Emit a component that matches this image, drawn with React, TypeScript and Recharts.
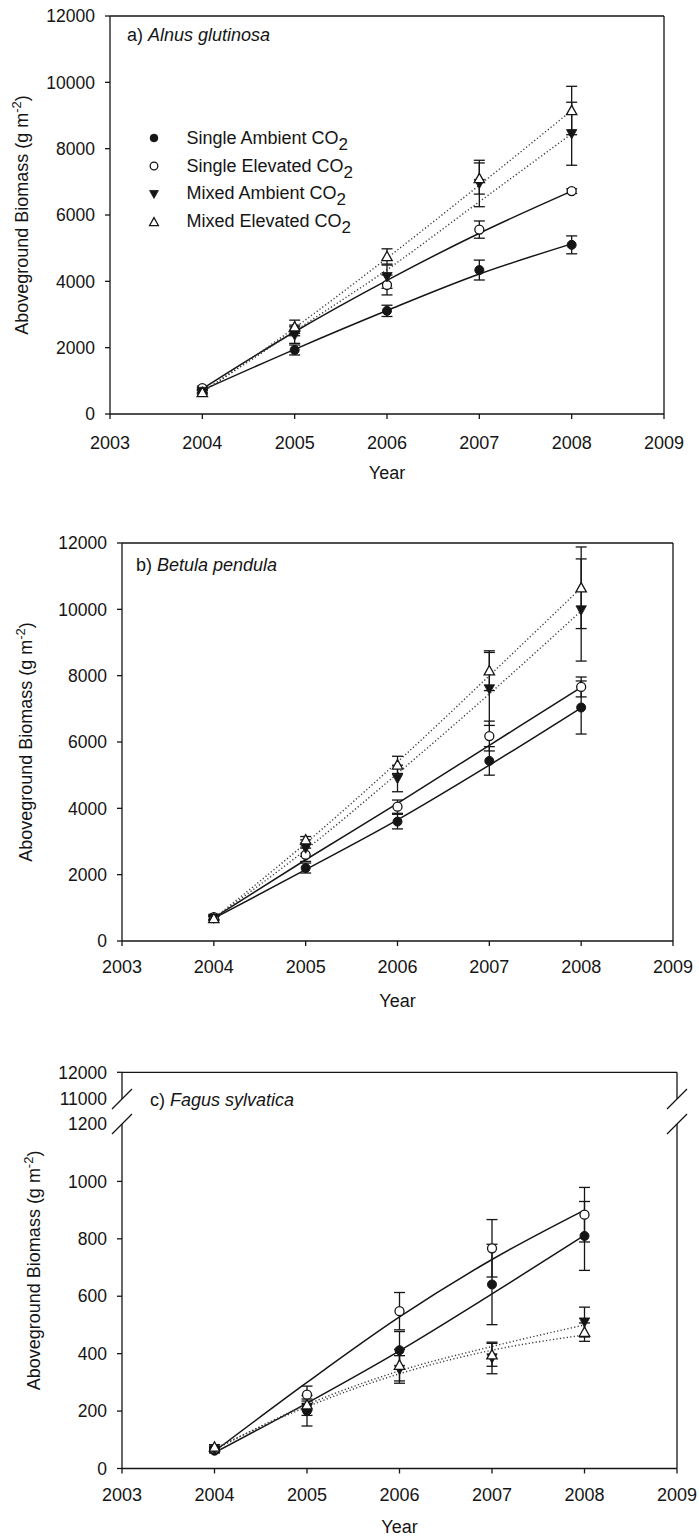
import React from 'react';
import {
  ComposedChart,
  Line,
  XAxis,
  YAxis,
  ErrorBar,
  ReferenceLine,
  ReferenceDot,
  Legend,
  Label,
} from 'recharts';

// ---------- shared axis values ----------
const years = [2004, 2005, 2006, 2007, 2008];
const yearTicks = [2003, 2004, 2005, 2006, 2007, 2008, 2009];
const biomassTicks = [0, 2000, 4000, 6000, 8000, 10000, 12000];
const fagusLowerTicks = [0, 200, 400, 600, 800, 1000, 1200];
const fagusUpperTicks = [11000, 12000];

// ---------- a) Alnus glutinosa ----------
const alnusSingleAmbient = [700, 1930, 3110, 4340, 5100];
const alnusSingleAmbientSE = [60, 150, 170, 300, 270];
const alnusSingleElevated = [780, 2520, 3890, 5560, 6720];
const alnusSingleElevatedSE = [60, 160, 300, 260, 70];
const alnusMixedAmbient = [680, 2380, 4140, 6950, 8450];
const alnusMixedAmbientSE = [50, 250, 350, 700, 950];
const alnusMixedElevated = [650, 2630, 4750, 7100, 9150];
const alnusMixedElevatedSE = [50, 200, 230, 470, 730];
const alnusSingleAmbientFit = [720, 1950, 3120, 4220, 5130];
const alnusSingleElevatedFit = [760, 2480, 4030, 5450, 6720];
const alnusMixedAmbientFit = [660, 2500, 4350, 6400, 8450];
const alnusMixedElevatedFit = [660, 2600, 4700, 6900, 9150];

// ---------- b) Betula pendula ----------
const betulaSingleAmbient = [700, 2200, 3600, 5430, 7040];
const betulaSingleAmbientSE = [60, 150, 220, 430, 800];
const betulaSingleElevated = [720, 2600, 4050, 6180, 7660];
const betulaSingleElevatedSE = [60, 200, 200, 450, 300];
const betulaMixedAmbient = [690, 2800, 4900, 7600, 9980];
const betulaMixedAmbientSE = [60, 250, 400, 1100, 1540];
const betulaMixedElevated = [680, 3050, 5310, 8150, 10650];
const betulaMixedElevatedSE = [60, 100, 260, 600, 1230];
const betulaSingleAmbientFit = [680, 2150, 3650, 5300, 7030];
const betulaSingleElevatedFit = [700, 2450, 4150, 5900, 7650];
const betulaMixedAmbientFit = [680, 2750, 5050, 7450, 9950];
const betulaMixedElevatedFit = [680, 2950, 5400, 8000, 10650];

// ---------- c) Fagus sylvatica ----------
const fagusSingleAmbient = [62, 201, 412, 641, 810];
const fagusSingleAmbientSE = [8, 53, 65, 140, 120];
const fagusSingleElevated = [68, 257, 548, 767, 884];
const fagusSingleElevatedSE = [8, 30, 65, 100, 95];
const fagusMixedAmbient = [65, 210, 345, 385, 510];
const fagusMixedAmbientSE = [8, 25, 48, 55, 52];
const fagusMixedElevated = [75, 222, 360, 396, 475];
const fagusMixedElevatedSE = [8, 20, 55, 40, 32];
const fagusSingleAmbientFit = [55, 228, 410, 608, 812];
const fagusSingleElevatedFit = [60, 300, 528, 728, 900];
const fagusMixedAmbientFit = [65, 222, 340, 425, 500];
const fagusMixedElevatedFit = [70, 215, 330, 412, 465];

// ---------- styling ----------
const FONT = "'Liberation Sans', Arial, Helvetica, sans-serif";
const INK = '#151515';
const Y_AXIS_W = 60;
const X_AXIS_H = 70;
const PAGE_W = 699;

type MarkerKind = 'filledCircle' | 'openCircle' | 'filledTriDown' | 'openTriUp';

const SERIES: { key: string; label: string; marker: MarkerKind; dotted: boolean }[] = [
  { key: 'sa', label: 'Single Ambient ', marker: 'filledCircle', dotted: false },
  { key: 'se', label: 'Single Elevated ', marker: 'openCircle', dotted: false },
  { key: 'ma', label: 'Mixed Ambient ', marker: 'filledTriDown', dotted: true },
  { key: 'me', label: 'Mixed Elevated ', marker: 'openTriUp', dotted: true },
];

type Row = Record<string, number>;

function buildRows(
  sa: number[], saE: number[], saF: number[],
  se: number[], seE: number[], seF: number[],
  ma: number[], maE: number[], maF: number[],
  me: number[], meE: number[], meF: number[],
): Row[] {
  return years.map((year, i) => ({
    year,
    sa: sa[i], saErr: saE[i], saFit: saF[i],
    se: se[i], seErr: seE[i], seFit: seF[i],
    ma: ma[i], maErr: maE[i], maFit: maF[i],
    me: me[i], meErr: meE[i], meFit: meF[i],
  }));
}

const alnusRows = buildRows(
  alnusSingleAmbient, alnusSingleAmbientSE, alnusSingleAmbientFit,
  alnusSingleElevated, alnusSingleElevatedSE, alnusSingleElevatedFit,
  alnusMixedAmbient, alnusMixedAmbientSE, alnusMixedAmbientFit,
  alnusMixedElevated, alnusMixedElevatedSE, alnusMixedElevatedFit,
);
const betulaRows = buildRows(
  betulaSingleAmbient, betulaSingleAmbientSE, betulaSingleAmbientFit,
  betulaSingleElevated, betulaSingleElevatedSE, betulaSingleElevatedFit,
  betulaMixedAmbient, betulaMixedAmbientSE, betulaMixedAmbientFit,
  betulaMixedElevated, betulaMixedElevatedSE, betulaMixedElevatedFit,
);
const fagusRows = buildRows(
  fagusSingleAmbient, fagusSingleAmbientSE, fagusSingleAmbientFit,
  fagusSingleElevated, fagusSingleElevatedSE, fagusSingleElevatedFit,
  fagusMixedAmbient, fagusMixedAmbientSE, fagusMixedAmbientFit,
  fagusMixedElevated, fagusMixedElevatedSE, fagusMixedElevatedFit,
);

// Broken y axis for Fagus: 0–1200 linear, then a short compressed 11000–12000 segment.
const BREAK_LOW = 1200;
const BREAK_GAP = 87;
const UPPER_SCALE = 0.093;
const toBrokenAxis = (v: number) => BREAK_LOW + BREAK_GAP + (v - fagusUpperTicks[0]) * UPPER_SCALE;
const BREAK_UPPER_START = toBrokenAxis(fagusUpperTicks[0]);
const FAGUS_TOP = toBrokenAxis(fagusUpperTicks[fagusUpperTicks.length - 1]);
const fagusAxisTicks = [...fagusLowerTicks, ...fagusUpperTicks.map(toBrokenAxis)];

function fagusTickText(v: number): string {
  if (v <= BREAK_LOW + 0.001) return String(v);
  const u = fagusUpperTicks.find((t) => Math.abs(toBrokenAxis(t) - v) < 0.01);
  return u !== undefined ? String(u) : '';
}

function Marker({ kind, cx, cy, scale = 1 }: { kind: MarkerKind; cx: number; cy: number; scale?: number }) {
  const r = 4.5 * scale;
  const t = 5.2 * scale;
  switch (kind) {
    case 'filledCircle':
      return <circle cx={cx} cy={cy} r={r} fill={INK} stroke={INK} strokeWidth={1} />;
    case 'openCircle':
      return <circle cx={cx} cy={cy} r={r} fill="#fff" stroke={INK} strokeWidth={1.3} />;
    case 'filledTriDown':
      return (
        <path
          d={`M${cx - t},${cy - t * 0.8} L${cx + t},${cy - t * 0.8} L${cx},${cy + t} Z`}
          fill={INK}
          stroke={INK}
          strokeWidth={0.8}
        />
      );
    case 'openTriUp':
    default:
      return (
        <path
          d={`M${cx - t},${cy + t * 0.8} L${cx + t},${cy + t * 0.8} L${cx},${cy - t} Z`}
          fill="#fff"
          stroke={INK}
          strokeWidth={1.3}
        />
      );
  }
}

function LegendBox({ payload }: any) {
  const present = SERIES.filter((s) =>
    (payload || []).some((e: any) => e.dataKey === s.key || e.value === `${s.label}CO2`),
  );
  return (
    <div style={{ fontFamily: FONT, fontSize: 18, color: INK }}>
      {present.map((s) => (
        <div key={s.key} style={{ height: 27.8, display: 'flex', alignItems: 'center', whiteSpace: 'nowrap' }}>
          <svg width={14} height={14} style={{ flex: 'none' }}>
            <Marker kind={s.marker} cx={7} cy={7} scale={0.85} />
          </svg>
          <span style={{ marginLeft: 26, lineHeight: '18px' }}>
            {s.label}CO
            <span style={{ fontSize: 17, position: 'relative', top: 6 }}>2</span>
          </span>
        </div>
      ))}
    </div>
  );
}

function YTitle({ cx, cy }: any) {
  return (
    <text
      x={0}
      y={0}
      transform={`translate(${cx},${cy}) rotate(-90)`}
      textAnchor="middle"
      fill={INK}
      fontSize={18}
      fontFamily={FONT}
    >
      <tspan dy={6.3}>Aboveground Biomass (g m</tspan>
      <tspan dy={-7} fontSize={13}>-2</tspan>
      <tspan dy={7}>)</tspan>
    </text>
  );
}

function XTitle({ cx, cy }: any) {
  return (
    <text x={cx} y={cy} dy={6.4} textAnchor="middle" fill={INK} fontSize={18} fontFamily={FONT}>
      Year
    </text>
  );
}

function FagusTick({ x, y, payload }: any) {
  const v: number = payload.value;
  const isBreak = Math.abs(v - BREAK_LOW) < 0.01 || Math.abs(v - BREAK_UPPER_START) < 0.01;
  const axisX = x + 15;
  return (
    <g>
      {!isBreak && <line x1={axisX} x2={axisX - 5} y1={y} y2={y} stroke={INK} strokeWidth={1.3} />}
      <text x={x} y={y} dy={6.2} textAnchor="end" fill={INK} fontSize={17.5} fontFamily={FONT}>
        {fagusTickText(v)}
      </text>
    </g>
  );
}

const slash = (p: any) => (
  <line x1={p.cx - 10} y1={p.cy + 10} x2={p.cx + 10} y2={p.cy - 10} stroke={INK} strokeWidth={1.3} />
);

type PanelProps = {
  top: number;
  height: number;
  plotLeft: number;
  plotRight: number;
  plotTop: number;
  plotBottom: number;
  rows: Row[];
  yTitleX: number;
  xTickMargin: number;
  yearY: number;
  titleLeft: number;
  titleY: number;
  tag: string;
  species: string;
  broken?: boolean;
  legend?: boolean;
};

function Panel(p: PanelProps) {
  const margin = {
    top: p.plotTop - p.top,
    right: PAGE_W - p.plotRight,
    left: p.plotLeft - Y_AXIS_W,
    bottom: p.top + p.height - p.plotBottom - X_AXIS_H,
  };
  const yTop = p.broken ? FAGUS_TOP : biomassTicks[biomassTicks.length - 1];
  const plotMidX = (p.plotLeft + p.plotRight) / 2;
  const plotMidY = (p.plotTop + p.plotBottom) / 2 - p.top;
  const axisStroke = { stroke: INK, strokeWidth: 1.3 };

  return (
    <div style={{ position: 'absolute', left: 0, top: p.top, width: PAGE_W, height: p.height }}>
      <ComposedChart width={PAGE_W} height={p.height} data={p.rows} margin={margin}>
        <XAxis
          dataKey="year"
          type="number"
          domain={[yearTicks[0], yearTicks[yearTicks.length - 1]]}
          ticks={yearTicks}
          height={X_AXIS_H}
          tickSize={5}
          tickMargin={p.xTickMargin}
          axisLine={axisStroke}
          tickLine={axisStroke}
          tick={{ fill: INK, fontSize: 18, fontFamily: FONT }}
          label={<Label content={<XTitle cx={plotMidX} cy={p.yearY - p.top} />} />}
        />
        {p.broken ? (
          <YAxis
            type="number"
            domain={[0, FAGUS_TOP]}
            ticks={fagusAxisTicks}
            interval={0}
            width={Y_AXIS_W}
            tickSize={5}
            tickMargin={10}
            axisLine={false}
            tickLine={false}
            tick={<FagusTick />}
            label={<Label content={<YTitle cx={p.yTitleX} cy={plotMidY} />} />}
          />
        ) : (
          <YAxis
            type="number"
            domain={[0, yTop]}
            ticks={biomassTicks}
            interval={0}
            width={Y_AXIS_W}
            tickSize={5}
            tickMargin={10}
            axisLine={axisStroke}
            tickLine={axisStroke}
            tick={{ fill: INK, fontSize: 17.5, fontFamily: FONT }}
            label={<Label content={<YTitle cx={p.yTitleX} cy={plotMidY} />} />}
          />
        )}

        {/* plot frame */}
        <ReferenceLine y={yTop} stroke={INK} strokeWidth={1.3} />
        {p.broken ? (
          <>
            <ReferenceLine segment={[{ x: 2003, y: 0 }, { x: 2003, y: BREAK_LOW }]} stroke={INK} strokeWidth={1.3} />
            <ReferenceLine segment={[{ x: 2003, y: BREAK_UPPER_START }, { x: 2003, y: FAGUS_TOP }]} stroke={INK} strokeWidth={1.3} />
            <ReferenceLine segment={[{ x: 2009, y: 0 }, { x: 2009, y: BREAK_LOW }]} stroke={INK} strokeWidth={1.3} />
            <ReferenceLine segment={[{ x: 2009, y: BREAK_UPPER_START }, { x: 2009, y: FAGUS_TOP }]} stroke={INK} strokeWidth={1.3} />
            <ReferenceDot x={2003} y={BREAK_LOW} shape={slash} ifOverflow="visible" />
            <ReferenceDot x={2003} y={BREAK_UPPER_START} shape={slash} ifOverflow="visible" />
            <ReferenceDot x={2009} y={BREAK_LOW} shape={slash} ifOverflow="visible" />
            <ReferenceDot x={2009} y={BREAK_UPPER_START} shape={slash} ifOverflow="visible" />
          </>
        ) : (
          <ReferenceLine x={2009} stroke={INK} strokeWidth={1.3} />
        )}

        {/* fitted curves */}
        {SERIES.map((s) => (
          <Line
            key={`${s.key}Fit`}
            dataKey={`${s.key}Fit`}
            type="monotone"
            stroke={s.dotted ? '#3a3a3a' : INK}
            strokeWidth={s.dotted ? 1.4 : 1.5}
            strokeDasharray={s.dotted ? '1.2 2.3' : undefined}
            dot={false}
            activeDot={false}
            legendType="none"
            isAnimationActive={false}
          />
        ))}

        {/* treatment means with standard errors */}
        {SERIES.map((s) => (
          <Line
            key={s.key}
            dataKey={s.key}
            name={`${s.label}CO2`}
            stroke="none"
            dot={(d: any) => <Marker key={`${s.key}-${d.index}`} kind={s.marker} cx={d.cx} cy={d.cy} />}
            activeDot={false}
            isAnimationActive={false}
          >
            <ErrorBar dataKey={`${s.key}Err`} width={5.5} stroke={INK} strokeWidth={1.3} direction="y" />
          </Line>
        ))}

        {p.legend && (
          <Legend
            layout="vertical"
            align="center"
            verticalAlign="middle"
            wrapperStyle={{ left: 146.5, top: 124.4, width: 280, height: 112 }}
            content={<LegendBox />}
          />
        )}
      </ComposedChart>
      <div
        style={{
          position: 'absolute',
          left: p.titleLeft,
          top: p.titleY - p.top - 8.8,
          fontFamily: FONT,
          fontSize: 18,
          lineHeight: '18px',
          color: INK,
          whiteSpace: 'nowrap',
        }}
      >
        {p.tag} <i>{p.species}</i>
      </div>
    </div>
  );
}

export default function App() {
  return (
    <div
      style={{
        position: 'absolute',
        left: 0,
        top: 0,
        width: PAGE_W,
        height: 1539,
        background: '#fff',
        fontFamily: FONT,
      }}
    >
      <Panel
        top={0}
        height={500}
        plotLeft={110}
        plotRight={664}
        plotTop={16}
        plotBottom={414}
        rows={alnusRows}
        yTitleX={22}
        xTickMargin={17}
        yearY={473}
        titleLeft={127}
        titleY={35}
        tag="a)"
        species="Alnus glutinosa"
        legend
      />
      <Panel
        top={520}
        height={500}
        plotLeft={122}
        plotRight={673}
        plotTop={543}
        plotBottom={941}
        rows={betulaRows}
        yTitleX={26}
        xTickMargin={14.5}
        yearY={1001}
        titleLeft={136}
        titleY={565}
        tag="b)"
        species="Betula pendula"
      />
      <Panel
        top={1050}
        height={489}
        plotLeft={122}
        plotRight={677}
        plotTop={1072.3}
        plotBottom={1468.5}
        rows={fagusRows}
        yTitleX={34}
        xTickMargin={15}
        yearY={1526.5}
        titleLeft={150}
        titleY={1100}
        tag="c)"
        species="Fagus sylvatica"
        broken
      />
    </div>
  );
}
